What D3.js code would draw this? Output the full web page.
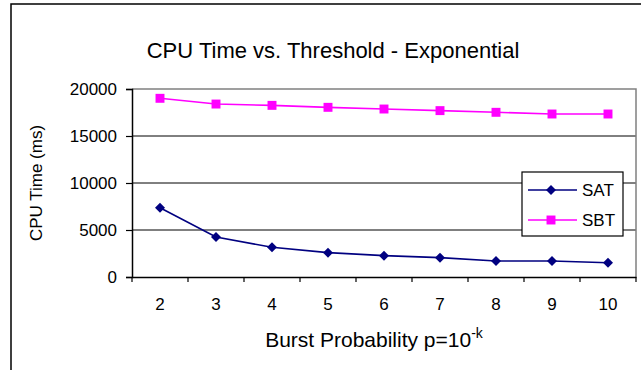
<!DOCTYPE html>
<html>
<head>
<meta charset="utf-8">
<script src="https://cdn.jsdelivr.net/npm/d3@7"></script>
<style>
  html, body { margin: 0; padding: 0; background: #fff; }
  svg { display: block; }
  text { font-family: "Liberation Sans", Arial, Helvetica, sans-serif; fill: #000; }
</style>
</head>
<body>
<svg id="chart" width="641" height="370"></svg>
<script>
// Burst probability exponent k (p = 10^-k)
const categories = [2, 3, 4, 5, 6, 7, 8, 9, 10];
// CPU time in milliseconds
const satValues = [7370, 4250, 3160, 2590, 2270, 2060, 1700, 1700, 1520];
const sbtValues = [19010, 18400, 18260, 18050, 17870, 17700, 17520, 17340, 17340];
const yTicks = [0, 5000, 10000, 15000, 20000];
const seriesNames = ["SAT", "SBT"];
const seriesColors = ["#000080", "#FF00FF"];
const seriesShapes = ["diamond", "square"];

const titleText = "CPU Time vs. Threshold - Exponential";
const yTitleText = "CPU Time (ms)";
const xTitleMain = "Burst Probability p=10";
const xTitleSup = "-k";

const series = seriesNames.map((name, i) => ({
  name,
  color: seriesColors[i],
  shape: seriesShapes[i],
  values: i === 0 ? satValues : sbtValues
}));

const svg = d3.select("#chart");
const plot = { left: 132, right: 636, top: 89, bottom: 277 };

const x = d3.scaleBand().domain(categories).range([plot.left, plot.right]);
const y = d3.scaleLinear().domain([0, 20000]).range([plot.bottom, plot.top]);

// chart area frame (runs off the right and bottom edges)
svg.append("path")
  .attr("d", "M11,370V4H641")
  .attr("fill", "none")
  .attr("stroke", "#000")
  .attr("stroke-width", 1.5);

// title
svg.append("text")
  .attr("x", 333).attr("y", 58)
  .attr("text-anchor", "middle")
  .style("font-size", "22px")
  .text(titleText);

// horizontal gridlines
svg.append("g")
  .selectAll("line")
  .data(yTicks.filter(t => t > 0 && t < 20000))
  .join("line")
  .attr("x1", plot.left).attr("x2", plot.right)
  .attr("y1", d => y(d)).attr("y2", d => y(d))
  .attr("stroke", "#000").attr("stroke-width", 1);

// plot area border (top and right)
svg.append("path")
  .attr("d", `M${plot.left},${y(20000)}H${plot.right}V${plot.bottom}`)
  .attr("fill", "none")
  .attr("stroke", "#808080")
  .attr("stroke-width", 1.5);

// y axis
const yAxis = d3.axisLeft(y).tickValues(yTicks).tickSize(6).tickPadding(9).tickFormat(d3.format("d"));
const gy = svg.append("g").attr("transform", `translate(${plot.left},0)`).call(yAxis);
gy.select(".domain").attr("stroke", "#000").attr("stroke-width", 1.5);
gy.selectAll(".tick line").attr("stroke", "#000").attr("stroke-width", 1.2);
gy.selectAll(".tick text")
  .style("font-size", "17px")
  .style("font-family", "'Liberation Sans', Arial, sans-serif")
  .attr("fill", "#000");

// x axis: labels centred in each band, ticks on band boundaries
const xAxis = d3.axisBottom(x).tickSize(0).tickPadding(21);
const gx = svg.append("g").attr("transform", `translate(0,${plot.bottom})`).call(xAxis);
gx.select(".domain").attr("stroke", "#000").attr("stroke-width", 1.5);
gx.selectAll(".tick text")
  .style("font-size", "17px")
  .style("font-family", "'Liberation Sans', Arial, sans-serif")
  .attr("fill", "#000");
const boundaries = categories.map(c => x(c)).concat([plot.right]);
gx.append("g").selectAll("line")
  .data(boundaries)
  .join("line")
  .attr("x1", d => d).attr("x2", d => d)
  .attr("y1", 0).attr("y2", 5)
  .attr("stroke", "#000").attr("stroke-width", 1.2);

// axis titles
svg.append("text")
  .attr("transform", `translate(42,${(plot.top + plot.bottom) / 2}) rotate(-90)`)
  .attr("text-anchor", "middle")
  .style("font-size", "17px")
  .text(yTitleText);

const xt = svg.append("text")
  .attr("x", 374).attr("y", 347)
  .attr("text-anchor", "middle")
  .style("font-size", "21px");
xt.append("tspan").text(xTitleMain);
xt.append("tspan").attr("dy", -9).style("font-size", "14px").text(xTitleSup);

const cx = c => x(c) + x.bandwidth() / 2;
const line = d3.line().x((d, i) => cx(categories[i])).y(d => y(d));
const markerD = shape => shape === "diamond"
  ? d3.symbol(d3.symbolSquare, 50)()
  : d3.symbol(d3.symbolSquare, 80)();
const markerRot = shape => shape === "diamond" ? " rotate(45)" : "";

// series lines and markers
series.forEach(s => {
  svg.append("path")
    .datum(s.values)
    .attr("d", line)
    .attr("fill", "none")
    .attr("stroke", s.color)
    .attr("stroke-width", 1.6);
  svg.append("g")
    .selectAll("path")
    .data(s.values)
    .join("path")
    .attr("transform", (d, i) => `translate(${cx(categories[i])},${y(d)})${markerRot(s.shape)}`)
    .attr("d", markerD(s.shape))
    .attr("fill", s.color);
});

// legend
const legend = svg.append("g").attr("transform", "translate(522,172)");
legend.append("rect")
  .attr("width", 101).attr("height", 64)
  .attr("fill", "#fff").attr("stroke", "#000").attr("stroke-width", 1.2);
series.forEach((s, i) => {
  const ly = 18 + i * 30;
  legend.append("line")
    .attr("x1", 6).attr("x2", 55).attr("y1", ly).attr("y2", ly)
    .attr("stroke", s.color).attr("stroke-width", 1.6);
  legend.append("path")
    .attr("transform", `translate(29,${ly})${markerRot(s.shape)}`)
    .attr("d", markerD(s.shape))
    .attr("fill", s.color);
  legend.append("text")
    .attr("x", 60).attr("y", ly)
    .attr("dy", "0.35em")
    .style("font-size", "17px")
    .text(s.name);
});
</script>
</body>
</html>
